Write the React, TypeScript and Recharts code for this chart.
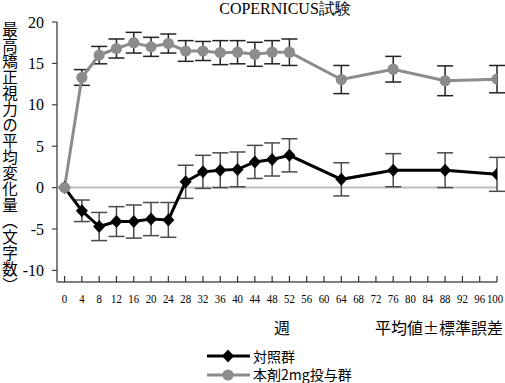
import React from 'react';
import { LineChart, Line, XAxis, YAxis, ErrorBar, ReferenceLine } from 'recharts';

const weeks = [0, 4, 8, 12, 16, 20, 24, 28, 32, 36, 40, 44, 48, 52, 64, 76, 88, 100];
const controlMean = [0, -2.8, -4.7, -4.1, -4.1, -3.8, -3.9, 0.7, 1.9, 2.1, 2.2, 3.1, 3.4, 3.9, 1.0, 2.1, 2.1, 1.6];
const controlSE = [0, 1.3, 1.7, 1.8, 2.0, 2.0, 2.1, 2.0, 2.0, 2.1, 2.1, 2.0, 2.0, 2.0, 2.0, 2.0, 2.1, 2.05];
const drugMean = [0, 13.3, 16.0, 16.8, 17.5, 17.0, 17.4, 16.5, 16.5, 16.3, 16.35, 16.1, 16.35, 16.35, 13.05, 14.3, 12.9, 13.1];
const drugSE = [0, 0.95, 1.05, 1.15, 1.25, 1.15, 1.15, 1.25, 1.15, 1.45, 1.4, 1.45, 1.4, 1.6, 1.7, 1.55, 1.8, 1.65];
const xTicks = [0, 4, 8, 12, 16, 20, 24, 28, 32, 36, 40, 44, 48, 52, 56, 60, 64, 68, 72, 76, 80, 84, 88, 92, 96, 100];
const yTicks = [-10, -5, 0, 5, 10, 15, 20];

const title = 'COPERNICUS試験';
const yLabel = '最高矯正視力の平均変化量（文字数）';
const xLabel = '週';
const note = '平均値±標準誤差';
const controlName = '対照群';
const drugName = '本剤2mg投与群';

const data = weeks.map((w, i) => ({
  week: w,
  ctrl: controlMean[i],
  ctrlErr: controlSE[i],
  drug: drugMean[i],
  drugErr: drugSE[i],
}));

const SERIF = '"Liberation Serif", "DejaVu Serif", serif';
const CJK = '"Noto Sans CJK JP", sans-serif';
const GRAY = '#8c8c8c';

const Diamond = (props: any) => {
  const { cx, cy, index } = props;
  if (cx == null || cy == null) return <g key={`dm-${index}`} />;
  return (
    <path
      key={`dm-${index}`}
      d={`M${cx},${cy - 6.5} L${cx + 6},${cy} L${cx},${cy + 6.5} L${cx - 6},${cy} Z`}
      fill="#000"
    />
  );
};

const Circle = (props: any) => {
  const { cx, cy, index } = props;
  if (cx == null || cy == null) return <g key={`ci-${index}`} />;
  return <circle key={`ci-${index}`} cx={cx} cy={cy} r={5.6} fill={GRAY} />;
};

const XTick = (props: any) => {
  const { x, y, payload } = props;
  const s = String(payload.value);
  return (
    <g>
      <line x1={x} x2={x} y1={y} y2={y - 6} stroke="#333" strokeWidth={1.2} />
      <text
        x={s.length > 2 ? x - 2 : x}
        y={y + 21}
        textAnchor="middle"
        fontSize={13.5}
        fontFamily={SERIF}
        fill="#000"
        textLength={s.length * 5.4}
        lengthAdjust="spacingAndGlyphs"
      >
        {s}
      </text>
    </g>
  );
};

export default function App() {
  return (
    <div style={{ position: 'absolute', left: 0, top: 0, width: 505, height: 383, background: '#fff', overflow: 'hidden' }}>
      <LineChart width={505} height={383} data={data} margin={{ top: 22, right: 8, bottom: 71, left: 0 }}>
        <XAxis
          dataKey="week"
          type="number"
          domain={[-1.75, 100]}
          ticks={xTicks}
          interval={0}
          tickSize={0}
          tickMargin={0}
          tickLine={false}
          tick={<XTick />}
          axisLine={{ stroke: '#808080', strokeWidth: 2 }}
          height={30}
          allowDataOverflow
        />
        <YAxis
          type="number"
          domain={[-11.4, 20]}
          ticks={yTicks}
          interval={0}
          width={57}
          tickSize={5}
          tickMargin={8}
          tickLine={{ stroke: '#444', strokeWidth: 1.2 }}
          axisLine={{ stroke: '#808080', strokeWidth: 2 }}
          tick={{ fontSize: 16, fill: '#000', fontFamily: SERIF }}
          allowDataOverflow
        />
        <ReferenceLine y={0} stroke="#bdbdbd" strokeWidth={2} />
        <Line
          dataKey="ctrl"
          type="linear"
          stroke="#000"
          strokeWidth={3}
          dot={Diamond}
          activeDot={false}
          isAnimationActive={false}
        >
          <ErrorBar dataKey="ctrlErr" direction="y" width={8} stroke="#4a4a4a" strokeWidth={1.5} />
        </Line>
        <Line
          dataKey="drug"
          type="linear"
          stroke={GRAY}
          strokeWidth={3}
          dot={Circle}
          activeDot={false}
          isAnimationActive={false}
        >
          <ErrorBar dataKey="drugErr" direction="y" width={8} stroke="#222" strokeWidth={1.5} />
        </Line>
      </LineChart>

      <div
        style={{
          position: 'absolute',
          left: 285,
          top: 0,
          transform: 'translateX(-50%)',
          fontFamily: SERIF,
          fontSize: 16,
          lineHeight: '18px',
          whiteSpace: 'nowrap',
          color: '#000',
        }}
      >
        {title}
      </div>

      <div
        style={{
          position: 'absolute',
          left: 1,
          top: 21,
          width: 17,
          height: 285,
          writingMode: 'vertical-rl',
          fontFamily: CJK,
          fontSize: 15.5,
          lineHeight: '17px',
          letterSpacing: '0.5px',
          whiteSpace: 'nowrap',
          color: '#000',
        }}
      >
        {yLabel}
      </div>

      <div
        style={{
          position: 'absolute',
          left: 282,
          top: 318,
          transform: 'translateX(-50%)',
          fontFamily: CJK,
          fontSize: 16,
          lineHeight: '18px',
          color: '#000',
        }}
      >
        {xLabel}
      </div>
      <div
        style={{
          position: 'absolute',
          left: 375,
          top: 318,
          fontFamily: CJK,
          fontSize: 16,
          lineHeight: '18px',
          whiteSpace: 'nowrap',
          color: '#000',
        }}
      >
        {note}
      </div>

      <svg style={{ position: 'absolute', left: 0, top: 0 }} width={505} height={383}>
        <line x1={207} x2={250} y1={356} y2={356} stroke="#000" strokeWidth={3} />
        <path d="M228,349.5 L234,356 L228,362.5 L222,356 Z" fill="#000" />
        <line x1={207} x2={250} y1={375} y2={375} stroke={GRAY} strokeWidth={3} />
        <circle cx={228} cy={375} r={5.6} fill={GRAY} />
      </svg>
      <div
        style={{
          position: 'absolute',
          left: 253,
          top: 348.5,
          fontFamily: CJK,
          fontSize: 14,
          lineHeight: '15px',
          whiteSpace: 'nowrap',
          color: '#000',
        }}
      >
        {controlName}
      </div>
      <div
        style={{
          position: 'absolute',
          left: 253,
          top: 367,
          fontFamily: CJK,
          fontSize: 14,
          lineHeight: '15px',
          whiteSpace: 'nowrap',
          color: '#000',
        }}
      >
        {drugName}
      </div>
    </div>
  );
}
